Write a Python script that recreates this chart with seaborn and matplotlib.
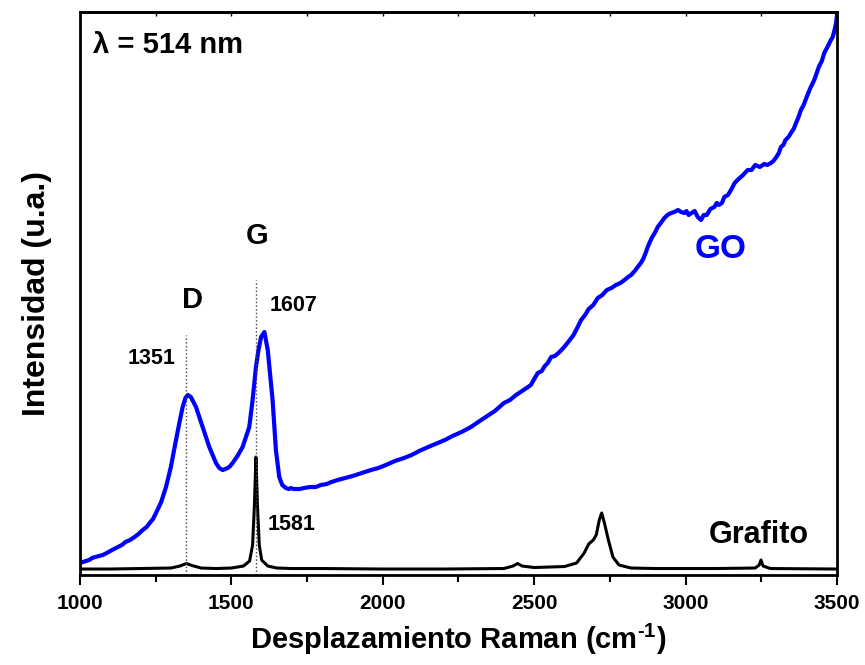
import pandas as pd
import seaborn as sns
import matplotlib.pyplot as plt

# Raman spectra (arbitrary intensity units)
go_shift = [1000, 1009, 1020, 1030, 1040, 1050, 1062, 1075, 1088, 1100, 1112, 1125, 1138,
            1150, 1165, 1180, 1193, 1207, 1220, 1230, 1241, 1251, 1268, 1284, 1300, 1317,
            1330, 1339, 1348, 1356, 1366, 1383, 1405, 1427, 1449, 1460, 1471, 1480, 1488,
            1496, 1504, 1520, 1537, 1559, 1570, 1581, 1590, 1598, 1609, 1620, 1628, 1636,
            1647, 1658, 1668, 1680, 1690, 1697, 1705, 1713, 1725, 1740, 1760, 1779, 1795,
            1815, 1830, 1851, 1875, 1900, 1930, 1961, 1985, 2010, 2040, 2070, 2095, 2120,
            2150, 2181, 2205, 2230, 2260, 2291, 2315, 2340, 2370, 2400, 2420, 2440, 2465,
            2489, 2500, 2512, 2525, 2535, 2545, 2556, 2568, 2580, 2590, 2599, 2615, 2630,
            2642, 2655, 2668, 2680, 2695, 2710, 2725, 2740, 2755, 2770, 2785, 2798, 2810,
            2820, 2832, 2842, 2852, 2860, 2868, 2875, 2882, 2890, 2900, 2908, 2918, 2930,
            2940, 2952, 2963, 2975, 2985, 2996, 3003, 3010, 3020, 3030, 3040, 3051, 3060,
            3070, 3082, 3095, 3103, 3110, 3120, 3128, 3140, 3150, 3162, 3175, 3190, 3205,
            3218, 3230, 3245, 3260, 3270, 3282, 3290, 3300, 3308, 3315, 3323, 3330, 3340,
            3348, 3357, 3365, 3373, 3381, 3390, 3400, 3412, 3425, 3432, 3440, 3450, 3458,
            3465, 3472, 3480, 3486, 3492, 3497, 3500]
go_int = [12, 13, 14, 15, 17, 18, 19, 20, 22, 24, 26, 28, 30,
          33, 35, 38, 41, 45, 48, 52, 56, 62, 73, 88, 108, 135,
          155, 168, 177, 180, 178, 168, 148, 128, 112, 107, 105, 106, 107,
          109, 112, 119, 128, 148, 175, 208, 226, 238, 243, 225, 200, 175,
          125, 98, 90, 87, 86, 87, 86, 86, 86, 87, 88, 88, 90,
          91, 93, 95, 97, 99, 102, 105, 107, 110, 114, 117, 120, 124,
          128, 132, 135, 139, 143, 148, 153, 158, 164, 172, 175, 180, 185,
          190, 196, 202, 204, 209, 212, 218, 219, 222, 225, 228, 234, 240,
          247, 255, 260, 266, 270, 277, 280, 285, 287, 290, 292, 295, 298,
          300, 304, 308, 312, 316, 322, 328, 333, 338, 343, 348, 352, 357,
          360, 362, 363, 365, 363, 362, 364, 360, 362, 364, 358, 355, 360,
          360, 366, 368, 372, 370, 372, 378, 380, 385, 392, 396, 400, 405,
          405, 410, 408, 411, 410, 412, 414, 418, 422, 428, 430, 435, 438,
          442, 446, 452, 458, 465, 470, 478, 487, 495, 501, 508, 514, 522,
          526, 530, 535, 538, 545, 552, 560]

graf_shift = [1000, 1100, 1200, 1300, 1330, 1351, 1370, 1400, 1450, 1500, 1540, 1560,
              1570, 1576, 1581, 1586, 1592, 1600, 1620, 1650, 1700, 1800, 2000, 2200,
              2400, 2430, 2445, 2460, 2500, 2600, 2640, 2665, 2680, 2695, 2705, 2715,
              2723, 2732, 2745, 2760, 2780, 2820, 2900, 3100, 3230, 3243, 3249, 3256,
              3280, 3500]
graf_int = [6, 6, 6.5, 7, 9, 11.5, 9.5, 7, 6.5, 7, 9, 14,
            30, 70, 118, 70, 30, 15, 9, 7, 6.5, 6.5, 6, 6,
            6.5, 9, 11.5, 9, 7.5, 8.5, 12, 22, 31, 35, 40, 55,
            62, 52, 35, 18, 10, 7, 6.5, 6.5, 7, 10, 15, 9,
            6.5, 6]

d_band = 1351
g_band = 1581

sns.set_style('ticks')
plt.rcParams['font.family'] = ['Liberation Sans', 'DejaVu Sans']
plt.rcParams['font.weight'] = 'bold'
plt.rcParams['text.color'] = 'black'
plt.rcParams['axes.labelcolor'] = 'black'
plt.rcParams['xtick.color'] = 'black'
plt.rcParams['mathtext.fontset'] = 'custom'
plt.rcParams['mathtext.rm'] = 'Liberation Sans:bold'
plt.rcParams['mathtext.default'] = 'rm'

go = pd.DataFrame({'shift': go_shift, 'intensity': go_int})
graf = pd.DataFrame({'shift': graf_shift, 'intensity': graf_int})

fig = plt.figure(figsize=(8.65, 6.65), dpi=100)
ax = fig.add_axes([0.0925, 0.1353, 0.8751, 0.8467])

sns.lineplot(data=go, x='shift', y='intensity', color='#0000ff', linewidth=3.0, ax=ax)
sns.lineplot(data=graf, x='shift', y='intensity', color='black', linewidth=2.2, ax=ax)

# dotted markers of the D and G bands
ax.vlines(d_band, 0, 240, colors='#444444', linestyles=':', linewidth=1.0)
ax.vlines(g_band, 0, 295, colors='#444444', linestyles=':', linewidth=1.0)

ax.set_xlim(1000, 3500)
ax.set_ylim(0, 563)
ax.set_xticks([1000, 1500, 2000, 2500, 3000, 3500])
ax.set_xticks([1250, 1750, 2250, 2750, 3250], minor=True)
ax.set_yticks([])
ax.tick_params(axis='x', which='major', direction='out', length=7, width=1.5,
               pad=7, labelsize=15, top=False, colors='black')
ax.tick_params(axis='x', which='minor', direction='out', length=5, width=1.5, top=False)

# short inward ticks on the top spine
top = ax.secondary_xaxis('top')
top.set_xticks([1250, 1500, 1750, 2000, 2250, 2500, 2750, 3000, 3250])
top.tick_params(direction='in', length=3, width=1.0, labeltop=False, colors='black')
top.spines['top'].set_linewidth(2)

for s in ax.spines.values():
    s.set_linewidth(2)
    s.set_color('black')

ax.set_xlabel('Desplazamiento Raman (cm$^{\u20101}$)', fontsize=21, fontweight='bold',
              labelpad=6)
ax.set_ylabel('Intensidad (u.a.)', fontsize=23, fontweight='bold', labelpad=20)

ax.text(1043, 530, '\u03bb = 514 nm', fontsize=21, fontweight='bold', va='center')
ax.text(1585, 339, 'G', fontsize=21, fontweight='bold', ha='center', va='center')
ax.text(1373, 275, 'D', fontsize=21, fontweight='bold', ha='center', va='center')
ax.text(1627, 269, '1607', fontsize=15.5, fontweight='bold', ha='left', va='center')
ax.text(1317, 217, '1351', fontsize=15.5, fontweight='bold', ha='right', va='center')
ax.text(1621, 51, '1581', fontsize=15.5, fontweight='bold', ha='left', va='center')
ax.text(3117, 325, 'GO', fontsize=24, fontweight='bold', ha='center', va='center',
        color='#0000ff')
ax.text(3075, 40, 'Grafito', fontsize=22, fontweight='bold', ha='left', va='center')

fig.savefig('out.png', dpi=100)
